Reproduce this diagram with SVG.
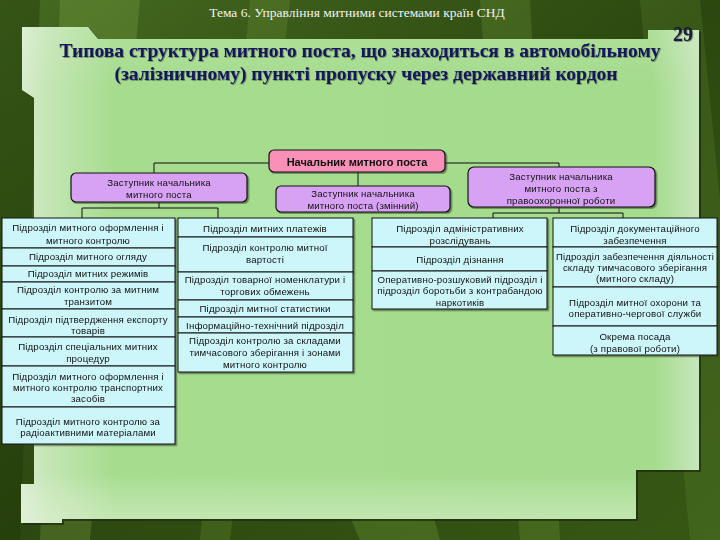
<svg xmlns="http://www.w3.org/2000/svg" width="720" height="540" viewBox="0 0 720 540">
<defs>
<linearGradient id="bg" x1="0" y1="0" x2="1" y2="1">
<stop offset="0" stop-color="#456a20"/>
<stop offset="0.5" stop-color="#2c4810"/>
<stop offset="1" stop-color="#365814"/>
</linearGradient>
<linearGradient id="panelH" x1="0" y1="0" x2="1" y2="0">
<stop offset="0" stop-color="#d9ecd0"/>
<stop offset="0.04" stop-color="#c4e6b4"/>
<stop offset="0.14" stop-color="#a6dc8e"/>
<stop offset="0.93" stop-color="#a4db8c"/>
<stop offset="1" stop-color="#c8e6bc"/>
</linearGradient>
<linearGradient id="panelV" x1="0" y1="0" x2="0" y2="1">
<stop offset="0" stop-color="#ffffff" stop-opacity="0.12"/>
<stop offset="0.12" stop-color="#ffffff" stop-opacity="0"/>
<stop offset="0.9" stop-color="#ffffff" stop-opacity="0"/>
<stop offset="1" stop-color="#e8f4e0" stop-opacity="0.45"/>
</linearGradient>
<filter id="ts" x="-5%" y="-20%" width="110%" height="140%">
<feDropShadow dx="0.8" dy="0.8" stdDeviation="0.3" flood-color="#1a2a10" flood-opacity="0.5"/>
</filter>
<filter id="bs" x="-5%" y="-5%" width="110%" height="110%">
<feDropShadow dx="1.5" dy="1.5" stdDeviation="0.5" flood-color="#2a3a20" flood-opacity="0.6"/>
</filter>
</defs>
<style>
.cell{fill:#cdf6fb;stroke:#111;stroke-width:1}
.dep{fill:#d8a2f4;stroke:#111;stroke-width:1.2}
.head{fill:#f890b8;stroke:#111;stroke-width:1.2}
.t{font-family:"Liberation Sans",Arial,sans-serif;font-size:9.7px;fill:#111;text-anchor:middle;letter-spacing:0.15px}
.hb{font-family:"Liberation Sans",Arial,sans-serif;font-size:11px;font-weight:bold;fill:#111;text-anchor:middle}
.ttl{font-family:"Liberation Serif","Times New Roman",serif;font-size:19.5px;font-weight:bold;fill:#15155e;text-anchor:middle}
.conn path{fill:none;stroke:#111;stroke-width:1}
</style>

<!-- background -->
<rect x="0" y="0" width="720" height="540" fill="url(#bg)"/>
<g opacity="0.22">
<polygon points="60,0 140,0 90,540 40,540" fill="#9bc45a"/>
<polygon points="250,0 290,0 230,540 200,540" fill="#7aa640"/>
<polygon points="480,0 530,0 560,540 520,540" fill="#82ae44"/>
<polygon points="640,0 700,0 720,200 720,540 690,540" fill="#6a9436"/>
<polygon points="330,470 420,470 440,540 360,540" fill="#8fbc50"/>
</g>
<polygon points="0,0 40,0 20,540 0,540" fill="#1e3408" opacity="0.4"/>

<!-- panel -->
<g id="panel">
<polygon points="22,27 88,27 98,39 648,39 648,30 699,30 699,470 636,470 636,519 62,519 62,523 21,523 21,484 34,484 34,98 22,90" fill="#1e2c12" transform="translate(2,2)" opacity="0.75"/>
<polygon points="22,27 88,27 98,39 648,39 648,30 699,30 699,470 636,470 636,519 62,519 62,523 21,523 21,484 34,484 34,98 22,90" fill="url(#panelH)"/>
<polygon points="22,27 88,27 98,39 648,39 648,30 699,30 699,470 636,470 636,519 62,519 62,523 21,523 21,484 34,484 34,98 22,90" fill="url(#panelV)"/>
</g>

<!-- titles -->
<text x="357" y="17" font-family="'Liberation Serif','Times New Roman',serif" font-size="13.5px" fill="#f2f2f2" text-anchor="middle">Тема 6. Управління митними системами країн СНД</text>
<g filter="url(#ts)">
<text class="ttl" x="360" y="57">Типова структура митного поста, що знаходиться в автомобільному</text>
<text class="ttl" x="366" y="80">(залізничному) пункті пропуску через державний кордон</text>
<text x="683" y="41" font-family="'Liberation Serif','Times New Roman',serif" font-size="20px" font-weight="bold" fill="#1a1a3a" text-anchor="middle">29</text>
</g>

<!-- connectors -->
<g id="connectors" class="conn">
<path d="M269,163 H154 V173"/>
<path d="M445,163 H559 V167"/>
<path d="M358,172 V186"/>
<path d="M159,202 V208"/>
<path d="M82,218 V208 H218 V218"/>
<path d="M559,207 V213"/>
<path d="M493,218 V213 H623 V218"/>
</g>

<!-- head -->
<g id="head" filter="url(#bs)">
<rect class="head" x="269" y="150" width="176" height="22" rx="5"/>
<text class="hb" x="357" y="166">Начальник митного поста</text>
</g>

<g id="deputy1" filter="url(#bs)">
<rect class="dep" x="71" y="173" width="176" height="29" rx="5"/>
<text class="t" x="159" y="185.5">Заступник начальника</text>
<text class="t" x="159" y="197.5">митного поста</text>
</g>

<g id="deputy2" filter="url(#bs)">
<rect class="dep" x="276" y="186" width="174" height="26" rx="5"/>
<text class="t" x="363" y="196.5">Заступник начальника</text>
<text class="t" x="363" y="208.5">митного поста (змінний)</text>
</g>

<g id="deputy3" filter="url(#bs)">
<rect class="dep" x="468" y="167" width="187" height="40" rx="6"/>
<text class="t" x="561" y="179.5">Заступник начальника</text>
<text class="t" x="561" y="191.5">митного поста з</text>
<text class="t" x="561" y="204">правоохоронної роботи</text>
</g>

<!-- column 1 -->
<g id="col1" filter="url(#bs)">
<g id="c1r1"><rect class="cell" x="2" y="218" width="173" height="30"/>
<text class="t" x="88" y="231">Підрозділ митного оформлення і</text>
<text class="t" x="88" y="243.5">митного контролю</text></g>
<g id="c1r2"><rect class="cell" x="2" y="248" width="173" height="18"/>
<text class="t" x="88" y="260">Підрозділ митного огляду</text></g>
<g id="c1r3"><rect class="cell" x="2" y="266" width="173" height="16"/>
<text class="t" x="88" y="277">Підрозділ митних режимів</text></g>
<g id="c1r4"><rect class="cell" x="2" y="282" width="173" height="27"/>
<text class="t" x="88" y="293">Підрозділ контролю за митним</text>
<text class="t" x="88" y="305">транзитом</text></g>
<g id="c1r5"><rect class="cell" x="2" y="309" width="173" height="28"/>
<text class="t" x="88" y="323">Підрозділ підтвердження експорту</text>
<text class="t" x="88" y="334">товарів</text></g>
<g id="c1r6"><rect class="cell" x="2" y="337" width="173" height="29"/>
<text class="t" x="88" y="350">Підрозділ спеціальних митних</text>
<text class="t" x="88" y="362">процедур</text></g>
<g id="c1r7"><rect class="cell" x="2" y="366" width="173" height="41"/>
<text class="t" x="88" y="380">Підрозділ митного оформлення і</text>
<text class="t" x="88" y="391">митного контролю транспортних</text>
<text class="t" x="88" y="402">засобів</text></g>
<g id="c1r8"><rect class="cell" x="2" y="407" width="173" height="37"/>
<text class="t" x="88" y="425">Підрозділ митного контролю за</text>
<text class="t" x="88" y="436">радіоактивними матеріалами</text></g>
</g>

<!-- column 2 -->
<g id="col2" filter="url(#bs)">
<g id="c2r1"><rect class="cell" x="178" y="218" width="175" height="19"/>
<text class="t" x="265" y="231.5">Підрозділ митних платежів</text></g>
<g id="c2r2"><rect class="cell" x="178" y="237" width="175" height="35"/>
<text class="t" x="265" y="251">Підрозділ контролю митної</text>
<text class="t" x="265" y="262.5">вартості</text></g>
<g id="c2r3"><rect class="cell" x="178" y="272" width="175" height="28"/>
<text class="t" x="265" y="282.5">Підрозділ товарної номенклатури і</text>
<text class="t" x="265" y="295">торгових обмежень</text></g>
<g id="c2r4"><rect class="cell" x="178" y="300" width="175" height="17"/>
<text class="t" x="265" y="311.5">Підрозділ митної статистики</text></g>
<g id="c2r5"><rect class="cell" x="178" y="317" width="175" height="16"/>
<text class="t" x="265" y="328.5">Інформаційно-технічний підрозділ</text></g>
<g id="c2r6"><rect class="cell" x="178" y="333" width="175" height="39"/>
<text class="t" x="265" y="344">Підрозділ контролю за складами</text>
<text class="t" x="265" y="356">тимчасового зберігання і зонами</text>
<text class="t" x="265" y="368">митного контролю</text></g>
</g>

<!-- column 3 -->
<g id="col3" filter="url(#bs)">
<g id="c3r1"><rect class="cell" x="372" y="218" width="175" height="29"/>
<text class="t" x="460" y="231.5">Підрозділ адміністративних</text>
<text class="t" x="460" y="243.5">розслідувань</text></g>
<g id="c3r2"><rect class="cell" x="372" y="247" width="175" height="24"/>
<text class="t" x="460" y="262.5">Підрозділ дізнання</text></g>
<g id="c3r3"><rect class="cell" x="372" y="271" width="175" height="38"/>
<text class="t" x="460" y="282.5">Оперативно-розшуковий підрозділ і</text>
<text class="t" x="460" y="294">підрозділ боротьби з контрабандою</text>
<text class="t" x="460" y="305.5">наркотиків</text></g>
</g>

<!-- column 4 -->
<g id="col4" filter="url(#bs)">
<g id="c4r1"><rect class="cell" x="553" y="218" width="164" height="29"/>
<text class="t" x="635" y="231.5">Підрозділ документаційного</text>
<text class="t" x="635" y="243.5">забезпечення</text></g>
<g id="c4r2"><rect class="cell" x="553" y="247" width="164" height="40"/>
<text class="t" x="635" y="259.5" textLength="158" lengthAdjust="spacingAndGlyphs">Підрозділ забезпечення діяльності</text>
<text class="t" x="635" y="270.5">складу тимчасового зберігання</text>
<text class="t" x="635" y="281.5">(митного складу)</text></g>
<g id="c4r3"><rect class="cell" x="553" y="287" width="164" height="39"/>
<text class="t" x="635" y="305.5">Підрозділ митної охорони та</text>
<text class="t" x="635" y="316.5">оперативно-чергової служби</text></g>
<g id="c4r4"><rect class="cell" x="553" y="326" width="164" height="29"/>
<text class="t" x="635" y="339.5">Окрема посада</text>
<text class="t" x="635" y="351.5">(з правової роботи)</text></g>
</g>
</svg>
